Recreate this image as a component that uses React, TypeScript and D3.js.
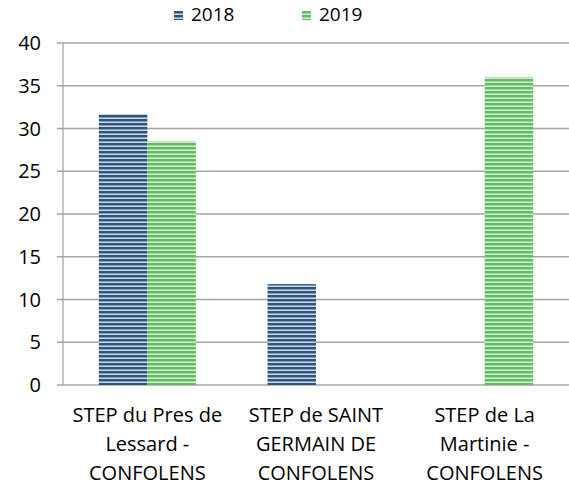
import * as d3 from "d3";
import { useEffect, useRef } from "react";

const categories = [
  ["STEP du Pres de", "Lessard -", "CONFOLENS"],
  ["STEP de SAINT", "GERMAIN DE", "CONFOLENS"],
  ["STEP de La", "Martinie -", "CONFOLENS"],
];
const years = ["2018", "2019"];
const values2018: (number | null)[] = [31.7, 11.8, null];
const values2019: (number | null)[] = [28.5, null, 36.0];
const yTicks = [0, 5, 10, 15, 20, 25, 30, 35, 40];

const W = 569;
const H = 489;
const FONT = "'Open Sans', 'Liberation Sans', sans-serif";

const App = () => {
  const ref = useRef<SVGSVGElement>(null);

  useEffect(() => {
    const svg = d3.select(ref.current);
    svg.selectAll("*").remove();

    const margin = { top: 43, right: 0, bottom: 104, left: 63 };
    const plotW = W - margin.left - margin.right;
    const plotH = H - margin.top - margin.bottom;

    // motifs rayés façon Excel
    const defs = svg.append("defs");
    const pat = (id: string, dark: string, mid: string, light: string) => {
      const p = defs.append("pattern")
        .attr("id", id)
        .attr("patternUnits", "userSpaceOnUse")
        .attr("width", 8).attr("height", 4);
      p.append("rect").attr("width", 8).attr("height", 4).attr("fill", light);
      p.append("rect").attr("y", 0).attr("width", 8).attr("height", 2).attr("fill", dark);
      p.append("rect").attr("y", 2).attr("width", 8).attr("height", 1).attr("fill", mid);
    };
    pat("p2018", "#2e5578", "#7f9cb9", "#c9d7e6");
    pat("p2019", "#5fbe5f", "#9bd89b", "#d3eed3");
    const fills = ["url(#p2018)", "url(#p2019)"];

    const x0 = d3.scaleBand<number>()
      .domain(categories.map((_, i) => i))
      .range([0, plotW])
      .paddingInner(0.425)
      .paddingOuter(0.2125);
    const x1 = d3.scaleBand<number>().domain([0, 1]).range([0, x0.bandwidth()]);
    const y = d3.scaleLinear().domain([0, 40]).range([plotH, 0]);

    const g = svg.append("g").attr("transform", `translate(${margin.left},${margin.top})`);

    // grille
    g.selectAll(".grid")
      .data(yTicks)
      .enter()
      .append("line")
        .attr("x1", -6).attr("x2", plotW)
        .attr("y1", d => y(d)).attr("y2", d => y(d))
        .attr("stroke", "#a6a6a6").attr("stroke-width", 1.3);

    g.append("line")
      .attr("x1", 0).attr("x2", 0)
      .attr("y1", 0).attr("y2", plotH)
      .attr("stroke", "#a6a6a6").attr("stroke-width", 1.3);

    g.selectAll(".ylab")
      .data(yTicks)
      .enter()
      .append("text")
        .attr("x", -22)
        .attr("y", d => y(d))
        .attr("dy", "0.35em")
        .attr("text-anchor", "end")
        .attr("font-family", FONT)
        .attr("font-size", 20)
        .attr("fill", "#000")
        .text(d => d);

    // barres
    [values2018, values2019].forEach((vals, s) => {
      g.selectAll(`.bar-${s}`)
        .data(vals.map((v, i) => ({ v, i })).filter(d => d.v !== null))
        .enter()
        .append("rect")
          .attr("x", d => (x0(d.i) as number) + (x1(s) as number))
          .attr("y", d => y(d.v as number))
          .attr("width", x1.bandwidth())
          .attr("height", d => plotH - y(d.v as number))
          .attr("fill", fills[s]);
    });

    // étiquettes catégories
    categories.forEach((lines, i) => {
      const cx = (x0(i) as number) + x0.bandwidth() / 2;
      lines.forEach((line, j) => {
        g.append("text")
          .attr("x", cx)
          .attr("y", plotH + 37 + j * 29)
          .attr("text-anchor", "middle")
          .attr("font-family", FONT)
          .attr("font-size", 20)
          .attr("fill", "#000")
          .text(line);
      });
    });

    // légende
    const legX = [174, 302];
    years.forEach((yr, i) => {
      const lg = svg.append("g").attr("transform", `translate(${legX[i]},11)`);
      lg.append("rect").attr("width", 9).attr("height", 9).attr("fill", fills[i]);
      lg.append("text")
        .attr("x", 17).attr("y", 10)
        .attr("font-family", FONT)
        .attr("font-size", 19)
        .attr("fill", "#000")
        .text(yr);
    });
  }, []);

  return (
    <svg
      ref={ref}
      width={W}
      height={H}
      style={{ position: "absolute", left: 0, top: 0, background: "#fff" }}
    ></svg>
  );
};

export default App;
